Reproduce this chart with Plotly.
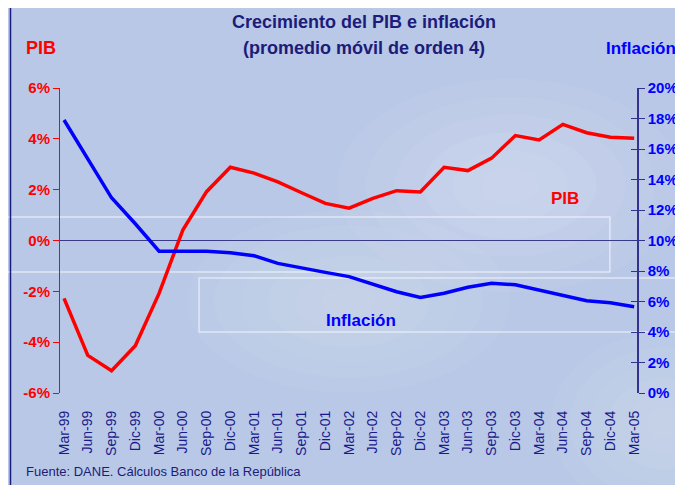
import plotly.graph_objects as go

quarters = ["Mar-99", "Jun-99", "Sep-99", "Dic-99", "Mar-00", "Jun-00", "Sep-00", "Dic-00",
            "Mar-01", "Jun-01", "Sep-01", "Dic-01", "Mar-02", "Jun-02", "Sep-02", "Dic-02",
            "Mar-03", "Jun-03", "Sep-03", "Dic-03", "Mar-04", "Jun-04", "Sep-04", "Dic-04",
            "Mar-05"]
pib = [-2.28, -4.52, -5.12, -4.14, -2.08, 0.41, 1.92, 2.88,
       2.65, 2.31, 1.88, 1.46, 1.27, 1.66, 1.96, 1.91,
       2.88, 2.75, 3.24, 4.13, 3.96, 4.57, 4.24, 4.06, 4.02]
inflacion = [17.9, 15.3, 12.8, 11.1, 9.3, 9.3, 9.3, 9.2,
             9.0, 8.5, 8.18, 7.91, 7.63, 7.15, 6.64, 6.27,
             6.54, 6.93, 7.19, 7.10, 6.75, 6.36, 6.05, 5.92, 5.66]

pib_ticks = [-6, -4, -2, 0, 2, 4, 6]
inf_ticks = [0, 2, 4, 6, 8, 10, 12, 14, 16, 18, 20]

NAVY = "#1c1c7a"
RED = "#ff0000"
BLUE = "#0000ff"
AXIS_NAVY = "#33338f"
FONT = "Liberation Sans, Arial, sans-serif"

fig = go.Figure()

fig.add_trace(go.Scatter(
    x=quarters, y=pib, mode="lines", name="PIB",
    line=dict(color=RED, width=3.5), yaxis="y"
))
fig.add_trace(go.Scatter(
    x=quarters, y=inflacion, mode="lines", name="Inflación",
    line=dict(color=BLUE, width=3.5), yaxis="y2"
))
# invisible trace so the inner tick axis is drawn
fig.add_trace(go.Scatter(x=quarters[:1], y=[0], yaxis="y3", mode="markers",
                         marker=dict(opacity=0), hoverinfo="skip"))

fig.update_layout(
    width=683, height=485,
    paper_bgcolor="#b9c8e6",
    plot_bgcolor="rgba(0,0,0,0)",
    showlegend=False,
    margin=dict(l=52, r=54, t=80, b=100),
    font=dict(family=FONT),
    xaxis=dict(
        type="category", range=[-0.17, 24.12],
        showgrid=False, showline=False, zeroline=False, ticks="",
        ticklabelstandoff=14,
        tickangle=-90, tickfont=dict(size=14, color="#1a1a8c", family=FONT),
    ),
    yaxis=dict(
        range=[-6, 6], tickvals=pib_ticks,
        ticktext=[f"{v}%" for v in pib_ticks],
        showgrid=False, showline=True, linecolor=RED, linewidth=1,
        ticks="outside", ticklen=6, tickcolor=RED,
        zeroline=True, zerolinecolor="#3a3a8c", zerolinewidth=1,
        tickfont=dict(size=15, color=RED, family=FONT, weight="bold"),
    ),
    yaxis2=dict(
        range=[0, 20], tickvals=inf_ticks,
        ticktext=[f"{v}%" for v in inf_ticks],
        overlaying="y", side="right", anchor="x",
        showgrid=False, showline=True, linecolor=AXIS_NAVY, linewidth=1.5,
        ticks="outside", ticklen=6, tickcolor=AXIS_NAVY, zeroline=False,
        tickfont=dict(size=15, color=BLUE, family=FONT, weight="bold"),
    ),
    yaxis3=dict(
        range=[0, 20], tickvals=inf_ticks, overlaying="y", side="right",
        anchor="x", showgrid=False, showline=False, zeroline=False,
        ticks="inside", ticklen=6, tickcolor=AXIS_NAVY, showticklabels=False,
    ),
)


def soft_blob(cx, cy, rx, ry, alpha=0.05, steps=6):
    # stacked translucent ellipses give a blurred light patch
    for i in range(steps):
        k = 1 - i / steps
        fig.add_shape(type="circle", xref="paper", yref="paper",
                      x0=cx - rx * k, x1=cx + rx * k, y0=cy - ry * k, y1=cy + ry * k,
                      line=dict(width=0), fillcolor=f"rgba(255,255,255,{alpha})",
                      layer="below")


soft_blob(0.78, 0.68, 0.3, 0.35)
soft_blob(0.5, 0.3, 0.28, 0.3, alpha=0.04)
soft_blob(1.05, -0.1, 0.2, 0.3, alpha=0.04)

fig.add_shape(type="rect", xref="paper", yref="paper", x0=-0.2, x1=0.953, y0=0.397, y1=0.577,
              line=dict(color="rgba(255,255,255,0.55)", width=1.5), fillcolor="rgba(0,0,0,0)",
              layer="below")
fig.add_shape(type="rect", xref="paper", yref="paper", x0=0.241, x1=1.2, y0=0.2, y1=0.377,
              line=dict(color="rgba(255,255,255,0.55)", width=1.5), fillcolor="rgba(0,0,0,0)",
              layer="below")
fig.add_shape(type="rect", xref="paper", yref="paper", x0=-0.0858, x1=1.3, y0=-0.5, y1=1.266,
              line=dict(color="#1a1a80", width=1.5), fillcolor="rgba(0,0,0,0)", layer="below")

fig.add_annotation(text="<b>Crecimiento del PIB e inflación</b>",
                   xref="paper", yref="paper", x=0.527, y=1.216, showarrow=False,
                   xanchor="center", yanchor="middle",
                   font=dict(size=18, color=NAVY, family=FONT))
fig.add_annotation(text="<b>(promedio móvil de orden 4)</b>",
                   xref="paper", yref="paper", x=0.527, y=1.131, showarrow=False,
                   xanchor="center", yanchor="middle",
                   font=dict(size=18, color=NAVY, family=FONT))
fig.add_annotation(text="<b>PIB</b>", xref="paper", yref="paper", x=-0.033, y=1.131,
                   showarrow=False, xanchor="center", yanchor="middle",
                   font=dict(size=18, color=RED, family=FONT))
fig.add_annotation(text="<b>Inflación</b>", xref="paper", yref="paper", x=1.007, y=1.131,
                   showarrow=False, xanchor="center", yanchor="middle",
                   font=dict(size=17, color=BLUE, family=FONT))
fig.add_annotation(text="<b>PIB</b>", xref="x", yref="y", x=21.1, y=1.67,
                   showarrow=False, xanchor="center", yanchor="middle",
                   font=dict(size=17, color=RED, family=FONT))
fig.add_annotation(text="<b>Inflación</b>", xref="x", yref="y", x=12.5, y=-3.13,
                   showarrow=False, xanchor="center", yanchor="middle",
                   font=dict(size=17, color=BLUE, family=FONT))
fig.add_annotation(text="Fuente: DANE. Cálculos Banco de la República",
                   xref="paper", yref="paper", x=-0.0624, y=-0.259,
                   xanchor="left", yanchor="middle",
                   showarrow=False, font=dict(size=13, color=NAVY, family=FONT))

fig.write_html("out.html")
